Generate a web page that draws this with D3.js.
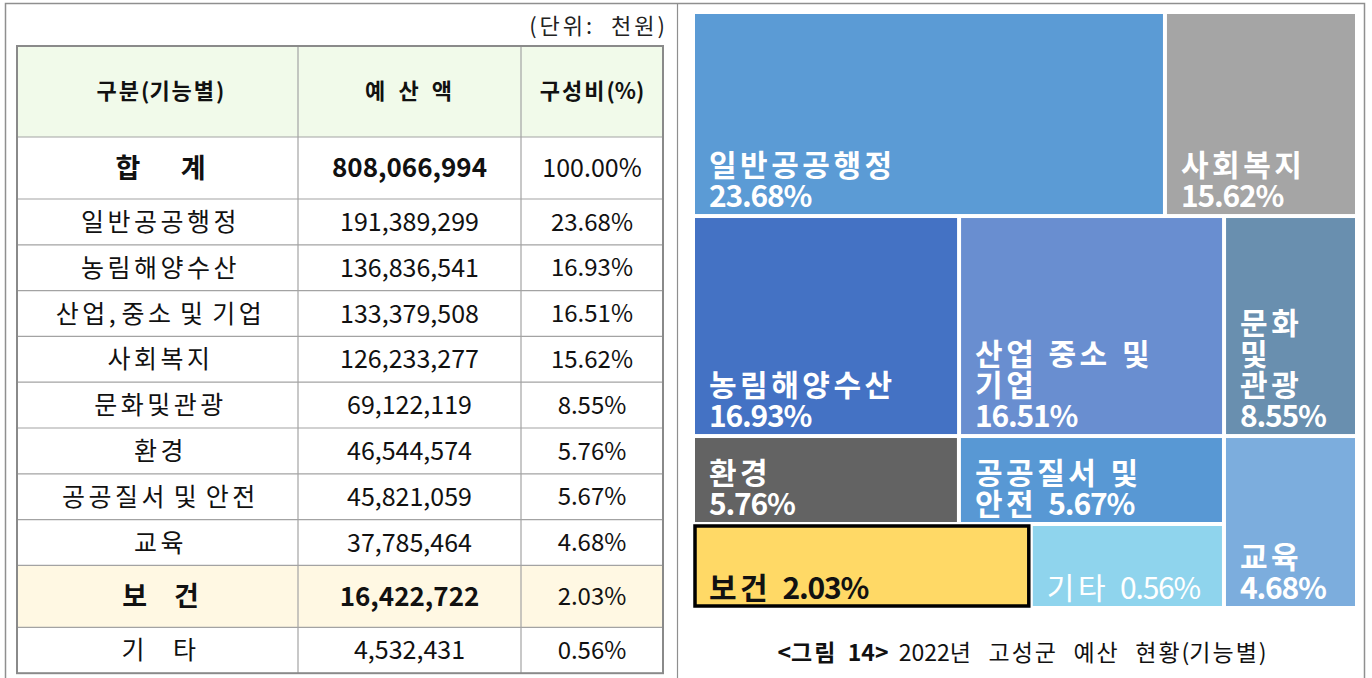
<!DOCTYPE html>
<html>
<head>
<meta charset="utf-8">
<script src="https://cdn.jsdelivr.net/npm/d3@7"></script>
<style>
body { margin: 0; background: #fff; }
svg { display: block; font-family: "Noto Sans CJK KR", "Noto Sans", sans-serif; }
</style>
</head>
<body>
<svg width="1372" height="678"></svg>
<script>
// 2022년 고성군 예산 현황 (기능별), 단위: 천원
var categories = ['일반공공행정', '농림해양수산', '산업, 중소 및 기업', '사회복지', '문화및관광',
	'환경', '공공질서 및 안전', '교육', '보건', '기타'];
var rowLabels = ['일반공공행정', '농림해양수산', '산업, 중소 및 기업', '사회복지', '문화및관광',
	'환경', '공공질서 및 안전', '교육', '보\u3000건', '기\u3000타'];
var amounts = [191389299, 136836541, 133379508, 126233277, 69122119, 46544574, 45821059, 37785464, 16422722, 4532431];
var shares = [23.68, 16.93, 16.51, 15.62, 8.55, 5.76, 5.67, 4.68, 2.03, 0.56];
var totalAmount = 808066994;
var headers = ['구분(기능별)', '예\u2002산\u2002액', '구성비(%)'];

// tile sizes as drawn in the figure (% of the treemap area) - they do not follow the shares
var tileArea = [24.33, 14.79, 14.73, 9.90, 7.39, 5.91, 5.89, 5.78, 7.17, 4.10];
// text in each tile, {p} = share
var tileLines = [['일반공공행정', '{p}'], ['농림해양수산', '{p}'], ['산업 중소 및', '기업', '{p}'], ['사회복지', '{p}'],
	['문화', '및', '관광', '{p}'], ['환경', '{p}'], ['공공질서 및', '안전 {p}'], ['교육', '{p}'], ['보건 {p}'], ['기타 {p}']];
// how the tiles are grouped (indices into categories)
var tileGroups = [[0, 3], [1, 2, 4], [[[5, 6], [8, 9]], 7]];

var svg = d3.select('svg');
var fmt = d3.format(',');

// split a string into hangul / other runs so the hangul can be spaced wider
var addRuns = function (sel, str, lsHangul, lsOther) {
	var runs = str.match(/[\uAC00-\uD7A3]+|[^\uAC00-\uD7A3]+/g) || [];
	runs.forEach(function (r) {
		sel.append('tspan')
			.attr('letter-spacing', /[\uAC00-\uD7A3]/.test(r) ? lsHangul : lsOther)
			.text(r);
	});
};

/*************** frame ***************/
svg.append('path')
	.attr('d', 'M5.5,680V3.5H1364.5V680')
	.attr('fill', 'none')
	.attr('stroke', '#8f8f8f')
	.attr('stroke-width', 1.5);
svg.append('line')
	.attr('x1', 677.5).attr('x2', 677.5).attr('y1', 3.5).attr('y2', 678)
	.attr('stroke', '#8f8f8f').attr('stroke-width', 1.2);

/*************** table ***************/
var colX = [17, 298, 521, 663];
var rows = [{ type: 'head', h: 91 }, { type: 'total', h: 62 }];
categories.forEach(function (c, i) {
	rows.push({ type: c === '보건' ? 'hl' : 'body', i: i, h: c === '보건' ? 62 : 45.8 });
});
var yy = 46;
rows.forEach(function (r) { r.y = yy; yy += r.h; });
var tableBottom = yy;

svg.append('text')
	.attr('x', 668).attr('y', 34)
	.attr('text-anchor', 'end')
	.attr('font-size', 22)
	.attr('letter-spacing', 3)
	.attr('fill', '#222')
	.style('white-space', 'pre')
	.text('(단위:  천원)');

var gTable = svg.append('g');

gTable.selectAll('rect.bg')
	.data(rows.filter(function (r) { return r.type === 'head' || r.type === 'hl'; }))
	.enter().append('rect')
	.attr('class', 'bg')
	.attr('x', colX[0]).attr('width', colX[3] - colX[0])
	.attr('y', function (r) { return r.y; })
	.attr('height', function (r) { return r.h; })
	.attr('fill', function (r) { return r.type === 'head' ? '#f1faea' : '#fff8e3'; });

// grid lines
gTable.selectAll('line.h')
	.data(rows.slice(1))
	.enter().append('line')
	.attr('x1', colX[0]).attr('x2', colX[3])
	.attr('y1', function (r) { return r.y; }).attr('y2', function (r) { return r.y; })
	.attr('stroke', '#a3a3a3').attr('stroke-width', 1.2);
gTable.selectAll('line.v')
	.data(colX.slice(1, 3))
	.enter().append('line')
	.attr('x1', function (d) { return d; }).attr('x2', function (d) { return d; })
	.attr('y1', 46).attr('y2', tableBottom)
	.attr('stroke', '#a3a3a3').attr('stroke-width', 1.2);
gTable.append('rect')
	.attr('x', colX[0]).attr('y', 46)
	.attr('width', colX[3] - colX[0]).attr('height', tableBottom - 46)
	.attr('fill', 'none').attr('stroke', '#8a8a8a').attr('stroke-width', 2);

var cellText = function (r) {
	if (r.type === 'head') return headers.map(function (t) { return { t: t, size: 22, bold: true, ls: 2 }; });
	if (r.type === 'total') return [
		{ t: '합\u3000\u2002계', size: 27, bold: true, ls: 0 },
		{ t: fmt(totalAmount), size: 26, bold: true, ls: 0 },
		{ t: '100.00%', size: 25, bold: false, ls: 0 }];
	var hl = r.type === 'hl';
	return [
		{ t: rowLabels[r.i], size: hl ? 27 : 25, bold: hl, ls: hl ? 0 : 3.5 },
		{ t: fmt(amounts[r.i]), size: hl ? 26 : 25, bold: hl, ls: 0 },
		{ t: shares[r.i].toFixed(2) + '%', size: 24, bold: false, ls: 0 }];
};

var rowG = gTable.selectAll('g.row')
	.data(rows)
	.enter().append('g')
	.attr('class', 'row');

rowG.selectAll('text')
	.data(function (r) {
		return cellText(r).map(function (c, j) { c.x = (colX[j] + colX[j + 1]) / 2 + (j === 0 ? 3 : 0); c.y = r.y + r.h / 2; return c; });
	})
	.enter().append('text')
	.attr('x', function (c) { return c.x; })
	.attr('y', function (c) { return c.y; })
	.attr('dy', '0.36em')
	.attr('text-anchor', 'middle')
	.attr('font-size', function (c) { return c.size; })
	.attr('font-weight', function (c) { return c.bold ? 700 : 400; })
	.attr('fill', '#111')
	.style('white-space', 'pre')
	.each(function (c) { addRuns(d3.select(this), c.t, c.ls, 0); });

/*************** treemap ***************/
var color = d3.scaleOrdinal()
	.domain(categories)
	.range(['#5b9bd5', '#4472c4', '#698ed0', '#a5a5a5', '#698faf', '#636363', '#5898d4', '#7caddd', '#ffd966', '#8fd4ed']);

var toNode = function (g) {
	if (typeof g === 'number') return { i: g, area: tileArea[g] };
	return { children: g.map(toNode) };
};
var root = d3.hierarchy(toNode(tileGroups))
	.sum(function (d) { return d.area || 0; });

var tile = function (node, x0, y0, x1, y1) {
	(node.depth % 2 === 0 ? d3.treemapSlice : d3.treemapDice)(node, x0, y0, x1, y1);
};
d3.treemap().tile(tile).size([660, 592]).paddingInner(4)(root);

var gMap = svg.append('g').attr('transform', 'translate(695,14)');

var leaf = gMap.selectAll('g')
	.data(root.leaves())
	.enter().append('g')
	.attr('transform', function (d) { return 'translate(' + d.x0 + ',' + d.y0 + ')'; });

leaf.append('rect')
	.attr('width', function (d) { return d.x1 - d.x0; })
	.attr('height', function (d) { return d.y1 - d.y0; })
	.attr('fill', function (d) { return color(categories[d.data.i]); })
	.attr('stroke', function (d) { return categories[d.data.i] === '보건' ? '#000' : 'none'; })
	.attr('stroke-width', 3.5);

leaf.each(function (d) {
	var lines = tileLines[d.data.i].map(function (s) { return s.replace('{p}', shares[d.data.i].toFixed(2) + '%'); });
	var h = d.y1 - d.y0;
	var name = categories[d.data.i];
	d3.select(this).selectAll('text')
		.data(lines)
		.enter().append('text')
		.attr('x', 14)
		.attr('y', function (s, k) { return h - 7 - (lines.length - 1 - k) * 31; })
		.attr('font-size', 30)
		.attr('font-weight', name === '기타' ? 400 : 700)
		.attr('fill', name === '보건' ? '#111' : '#fff')
		.style('white-space', 'pre')
		.each(function (s) { addRuns(d3.select(this), s.replace(/ /g, '  '), 3.5, -1.2); });
});

/*************** caption ***************/
var cap = svg.append('text')
	.attr('x', 1022).attr('y', 661)
	.attr('text-anchor', 'middle')
	.attr('font-size', 23)
	.attr('fill', '#111')
	.style('white-space', 'pre');
var capBold = cap.append('tspan').attr('font-weight', 700);
addRuns(capBold, '<그림  14>', 2, 0);
addRuns(cap, '  2022년   고성군   예산   현황(기능별)', 2, 0);
</script>
</body>
</html>
